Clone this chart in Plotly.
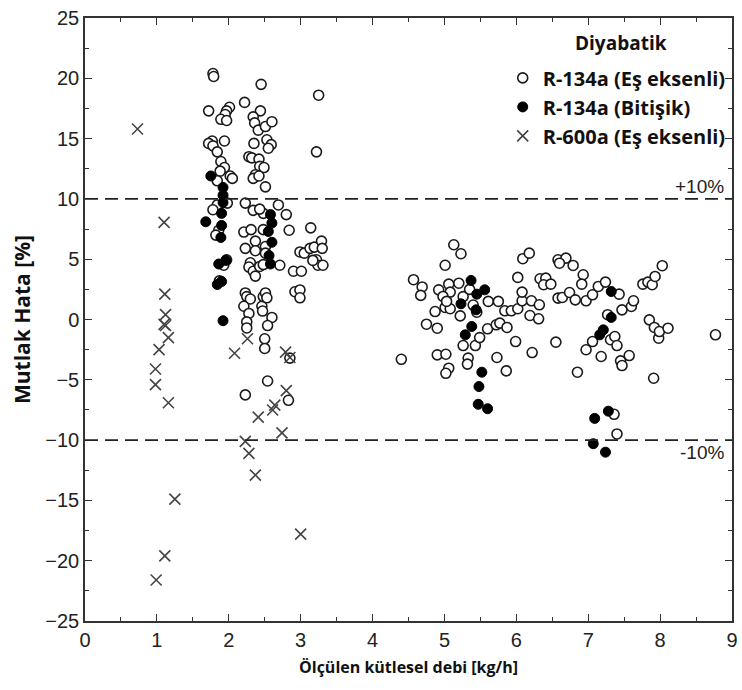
import plotly.graph_objects as go

# R-134a (Eş eksenli) - open circles
open_x = [1.78, 1.79, 2.45, 2.22, 1.72, 2.01, 1.97, 1.95, 1.89, 1.97,
          2.44, 2.34, 2.36, 2.41, 2.51, 2.60,
          1.77, 1.72, 1.78, 1.94, 1.84, 1.89, 1.94, 1.88, 2.02, 1.84, 2.05,
          2.35, 2.53, 2.59, 2.55,
          2.28, 2.32, 2.42, 2.43, 2.37, 2.34, 2.49, 2.51, 2.42,
          3.25, 3.22,
          1.84, 1.98, 1.78, 1.86, 1.82, 1.97, 1.93, 1.87,
          2.23, 2.34, 2.48, 2.43, 2.69, 2.80, 2.84, 3.14, 2.21, 2.31, 2.48,
          2.37, 2.23, 2.37, 2.51, 2.51,
          2.30, 2.28, 2.34, 2.37, 2.43, 2.48, 2.71,
          2.23, 2.25, 2.30, 2.21, 2.28, 2.25, 2.25, 2.46, 2.48, 2.51,
          2.53, 2.47, 2.60, 2.54, 2.50, 2.50, 2.54, 2.23, 2.83, 2.85,
          2.90, 3.01, 2.92, 2.99, 2.99,
          2.99, 3.05, 3.13, 3.19, 3.29, 3.30, 3.22, 3.24, 3.31, 3.17,
          5.13, 5.23, 5.01, 4.69, 4.67, 4.92, 5.06, 5.20, 5.08, 4.98, 5.26,
          4.87, 5.01, 5.08, 5.03, 5.22, 4.75, 4.90, 4.90, 5.02, 5.06, 5.02,
          5.26, 5.33, 5.32, 5.43, 5.49, 5.60, 5.72, 5.77, 5.87, 5.61, 5.75,
          5.84, 5.93, 6.02, 6.08, 6.08, 6.21, 6.32, 6.19, 6.31, 6.02, 6.09, 6.18,
          5.73, 5.86, 5.99, 6.22, 6.33, 6.41, 6.38, 6.48, 6.55,
          6.58, 6.69, 6.60, 6.79, 6.58, 6.64, 6.74, 6.82, 6.93, 6.91,
          6.97, 7.06, 7.14, 7.24, 6.85, 6.97, 7.06, 7.18, 7.31, 7.37, 7.40,
          7.45, 7.47, 7.57, 7.43, 7.47, 7.60, 7.63, 7.36, 7.40,
          7.76, 7.83, 7.89, 7.93, 8.03, 7.85, 7.92, 7.98, 7.99, 8.11, 7.91, 8.77,
          4.40, 4.57, 7.27, 5.40, 5.35, 5.45]
open_y = [20.4, 20.15, 19.5, 18.0, 17.3, 17.6, 17.3, 17.0, 16.6, 16.5,
          17.3, 16.8, 16.3, 15.7, 16.0, 16.4,
          14.8, 14.6, 14.4, 14.8, 13.9, 13.1, 12.6, 12.3, 11.9, 11.5, 11.7,
          14.6, 14.9, 14.5, 14.2,
          13.5, 13.4, 13.3, 12.7, 12.0, 11.7, 12.6, 11.0, 11.9,
          18.6, 13.9,
          9.5, 9.65, 9.1, 7.4, 7.0, 4.95, 4.5, 3.2,
          9.65, 9.05, 8.8, 9.15, 9.5, 8.7, 7.4, 7.6, 7.25, 7.45, 7.45,
          6.5, 5.9, 5.7, 6.05, 5.5,
          4.7, 4.35, 4.0, 3.6, 4.4, 4.55, 4.5,
          2.2, 1.9, 1.7, 1.1, 0.5, -0.2, -0.7, 1.1, 1.9, 2.2,
          1.8, 0.7, 0.17, -0.5, -1.6, -2.4, -5.1, -6.25, -6.7, -3.2,
          4.0, 4.0, 2.3, 2.45, 1.8,
          5.6, 5.5, 5.9, 6.0, 6.5, 5.9, 4.95, 4.5, 4.5, 4.9,
          6.2, 5.45, 4.5, 2.7, 2.0, 2.46, 2.93, 3.01, 2.27, 1.91, 1.9,
          0.66, 1.0, 0.89, 1.5, 0.3, -0.39, -0.72, -2.93, -2.88, -4.04, -4.46,
          -2.16, -3.2, -3.7, -2.16, -1.5, -0.77, -0.44, -0.3, -0.66, 1.5, 1.5,
          0.72, 0.72, 0.89, 1.55, 2.27, 1.55, 1.22, 0.33, 0.06, 3.49, 5.04, 5.5,
          -3.15, -4.26, -1.83, -2.74, 3.38, 3.43, 2.88, 2.93, -1.88,
          4.95, 5.09, 4.67, 4.48, 1.77, 1.83, 2.24, 1.63, 3.71, 2.93,
          1.55, 2.05, 2.74, 3.1, -4.37, -2.51, -1.83, -3.07, -1.68, -1.41, -2.16,
          -3.43, -3.82, -2.99, 2.1, 0.8, 1.08, 1.55, -7.86, -9.49,
          2.93, 3.1, 2.88, 3.57, 4.46, -0.03, -0.66, -1.55, -1.0, -0.72, -4.87, -1.27,
          -3.3, 3.3, 0.4, 1.2, 2.5, 0.6]

# R-134a (Bitişik) - filled circles
fill_x = [1.75, 1.92, 1.92, 1.92, 1.68, 1.90, 1.90, 1.89, 1.86, 1.96, 1.84, 1.90, 1.92,
          2.58, 2.60, 2.55, 2.60, 2.56, 2.58,
          5.37, 5.45, 5.56, 5.23, 5.44, 5.38, 5.29, 5.52, 5.48, 5.47, 5.60,
          7.32, 7.32, 7.21, 7.16, 7.09, 7.28, 7.07, 7.24]
fill_y = [11.9, 10.95, 10.3, 9.7, 8.1, 8.8, 7.8, 6.8, 4.6, 4.9, 2.9, 3.15, -0.1,
          8.7, 8.0, 7.3, 6.4, 5.3, 4.6,
          3.24, 2.1, 2.46, 1.3, 0.8, -0.58, -1.27, -4.37, -5.56, -7.03, -7.4,
          2.32, 0.17, -0.86, -1.27, -8.2, -7.6, -10.3, -11.0]

# R-600a (Eş eksenli) - crosses
cross_x = [0.73, 1.10, 1.11, 1.12, 1.10, 1.12, 1.16, 1.03, 0.98, 0.98, 1.16,
           1.25, 1.11, 0.99,
           2.26, 2.08, 2.79, 2.85, 2.80, 2.41, 2.61, 2.64, 2.74, 2.23, 2.28, 2.37, 3.00]
cross_y = [15.8, 8.05, 2.1, 0.4, -0.4, -0.5, -1.5, -2.5, -4.1, -5.4, -6.9,
           -14.9, -19.6, -21.6,
           -1.6, -2.8, -2.7, -3.15, -5.9, -8.1, -7.5, -7.1, -9.4, -10.1, -11.1, -12.9, -17.8]

limit_vals = [10, -10]
limit_labels = ["+10%", "-10%"]

fig = go.Figure()
fig.add_trace(go.Scatter(
    x=open_x, y=open_y, mode="markers", name="R-134a (Eş eksenli)",
    legendgroup="a",
    marker=dict(symbol="circle", size=10, color="white",
                line=dict(color="#1a1a1a", width=1.6))))
fig.add_trace(go.Scatter(
    x=fill_x, y=fill_y, mode="markers", name="R-134a (Bitişik)",
    legendgroup="b",
    marker=dict(symbol="circle", size=10, color="black",
                line=dict(color="black", width=1))))
fig.add_trace(go.Scatter(
    x=cross_x, y=cross_y, mode="markers", name="R-600a (Eş eksenli)",
    legendgroup="c",
    marker=dict(symbol="x-thin", size=11, color="#444",
                line=dict(color="#444", width=1.6))))

for v, lab in zip(limit_vals, limit_labels):
    fig.add_hline(y=v, line=dict(color="#222", width=1.6, dash="13px,7px"))
    fig.add_annotation(x=1, xref="paper", xanchor="right", xshift=-6,
                       y=v, yref="y", yanchor="bottom" if v > 0 else "top",
                       yshift=0, text=lab, showarrow=False,
                       font=dict(family="Liberation Sans", size=19, color="#222"))

# legend heading
fig.add_annotation(x=0.828, xref="paper", xanchor="center",
                   y=0.9585, yref="paper", yanchor="middle",
                   text="<b>Diyabatik</b>", showarrow=False,
                   font=dict(family="Open Sans", size=19, color="#111"))

axis_common = dict(
    showgrid=False, zeroline=False, showline=True, linecolor="#333",
    linewidth=1.5, mirror="allticks", ticks="inside", ticklen=7,
    tickwidth=1.2, tickcolor="#333",
    tickfont=dict(family="Liberation Sans", size=20, color="#222"),
)

fig.update_xaxes(range=[0, 9], dtick=1, tick0=0,
                 minor=dict(ticks="inside", dtick=0.5, ticklen=4,
                            tickcolor="#333", tickwidth=1.2),
                 title=dict(text="Ölçülen kütlesel debi [kg/h]", standoff=12,
                            font=dict(family="Open Sans", size=16,
                                      color="#111", weight="bold")),
                 **axis_common)
fig.update_yaxes(range=[-25, 25], dtick=5, tick0=0,
                 minor=dict(ticks="inside", dtick=2.5, ticklen=4,
                            tickcolor="#333", tickwidth=1.2),
                 title=dict(text="Mutlak Hata [%]", standoff=9,
                            font=dict(family="Open Sans", size=21,
                                      color="#111", weight="bold")),
                 **axis_common)

fig.update_layout(
    width=742, height=690,
    margin=dict(l=85, r=4, t=18, b=69),
    paper_bgcolor="white", plot_bgcolor="white",
    showlegend=True,
    legend=dict(
        x=0.998, xanchor="right", y=0.933, yanchor="top",
        bgcolor="rgba(255,255,255,0)",
        font=dict(family="Open Sans", size=20, color="#111", weight="bold"),
        tracegroupgap=0, itemsizing="trace", itemwidth=30,
    ),
)

fig.write_html("out.html")
